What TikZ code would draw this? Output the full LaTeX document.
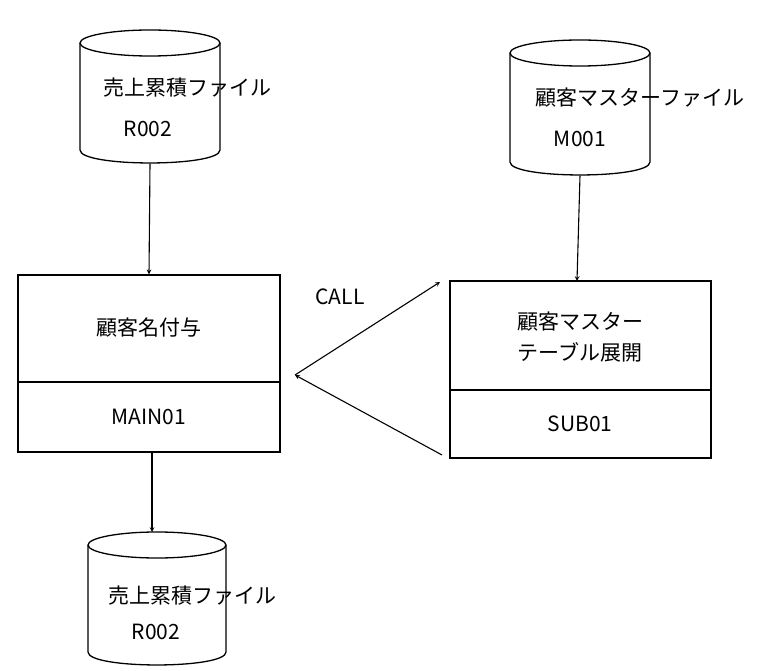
\documentclass[tikz,border=0pt]{standalone}
\usepackage{fontspec}
\setmainfont{Noto Sans CJK JP}
\begin{document}
\begin{tikzpicture}[x=1pt,y=-1pt,line width=1.3pt,
  txt/.style={font=\fontsize{21}{24}\selectfont,inner sep=0},
  arr/.style={->,>=stealth,line width=1.1pt}]
\useasboundingbox (0,0) rectangle (761,671);
% cylinders: left x, right x, top ellipse center y, bottom y, ry
\def\cyl#1#2#3#4#5{%
  \draw[fill=white] (#1,#3) -- (#1,#4) .. controls (#1,#4+1.33*#5) and (#2,#4+1.33*#5) .. (#2,#4) -- (#2,#3);
  \draw ({(#1+#2)/2},#3) ellipse [x radius={(#2-#1)/2}, y radius=#5];}
\cyl{80}{220}{43}{150}{13}
\cyl{510}{650}{53}{162}{13}
\cyl{88}{226}{545}{652}{13}
\node[minimum width=140,minimum height=133,inner sep=0] (c1) at (150,96.5) {};
\node[minimum width=140,minimum height=135,inner sep=0] (c2) at (580,107.5) {};
\node[minimum width=138,minimum height=133,inner sep=0] (c3) at (157,598.5) {};
\node[txt] at (187,88) {売上累積ファイル};
\node[txt] at (148,129) {R002};
\node[txt] at (640,98) {顧客マスターファイル};
\node[txt] at (580,139) {M001};
\node[txt] at (192,596) {売上累積ファイル};
\node[txt] at (156,632) {R002};
% boxes
\draw (18,275) rectangle (280,452); \draw (18,382) -- (280,382);
\node[minimum width=262,minimum height=177,inner sep=0] (b1) at (149,363.5) {};
\node[txt] at (149,328) {顧客名付与};
\node[txt] at (149,417) {MAIN01};
\draw (450,281) rectangle (711,458); \draw (450,390) -- (711,390);
\node[minimum width=261,minimum height=177,inner sep=0] (b2) at (580.5,369.5) {};
\node[txt] at (580,322) {顧客マスター};
\node[txt] at (580,352) {テーブル展開};
\node[txt] at (580,424) {SUB01};
% arrows
\draw[arr] (c1.south) -- (b1.north);
\draw[arr] (c2.south) -- (577,281);
\draw[arr] (152,452) -- (152,532);
\coordinate (p) at (295,375);
\coordinate (q) at (440,282);
\coordinate (r) at (442,455);
\draw[arr] (p) -- (q);
\draw[arr] (r) -- (p);
\node[txt] at (340,297) {CALL};
\end{tikzpicture}
\end{document}
